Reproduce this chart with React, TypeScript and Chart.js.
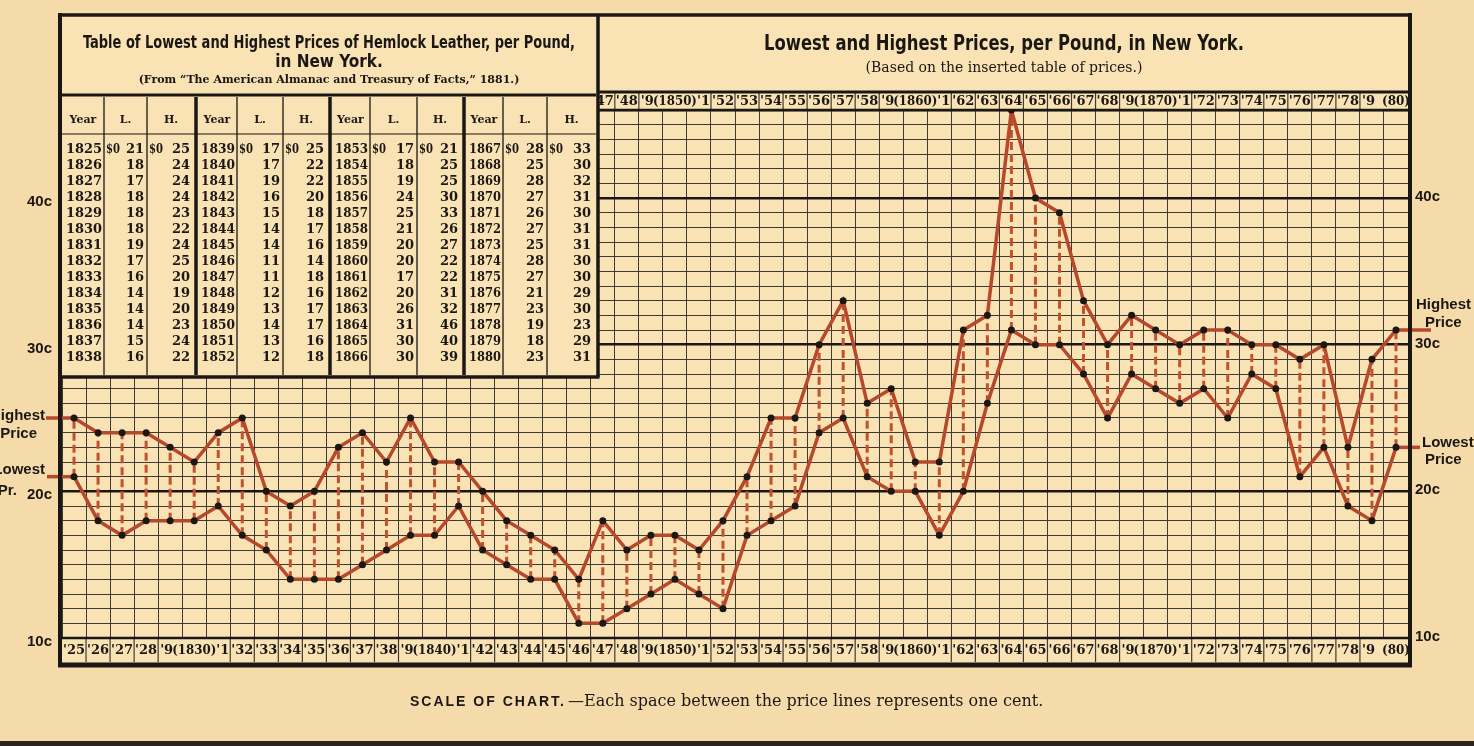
import React, { useEffect, useRef } from "react";
import { Chart, registerables } from "chart.js";

Chart.register(...registerables);

// ---------------- DATA ----------------
const years = [
  1825, 1826, 1827, 1828, 1829, 1830, 1831, 1832, 1833, 1834, 1835, 1836, 1837, 1838,
  1839, 1840, 1841, 1842, 1843, 1844, 1845, 1846, 1847, 1848, 1849, 1850, 1851, 1852,
  1853, 1854, 1855, 1856, 1857, 1858, 1859, 1860, 1861, 1862, 1863, 1864, 1865, 1866,
  1867, 1868, 1869, 1870, 1871, 1872, 1873, 1874, 1875, 1876, 1877, 1878, 1879, 1880,
];
// cents per pound
const lowPrices = [
  21, 18, 17, 18, 18, 18, 19, 17, 16, 14, 14, 14, 15, 16,
  17, 17, 19, 16, 15, 14, 14, 11, 11, 12, 13, 14, 13, 12,
  17, 18, 19, 24, 25, 21, 20, 20, 17, 20, 26, 31, 30, 30,
  28, 25, 28, 27, 26, 27, 25, 28, 27, 21, 23, 19, 18, 23,
];
const highPrices = [
  25, 24, 24, 24, 23, 22, 24, 25, 20, 19, 20, 23, 24, 22,
  25, 22, 22, 20, 18, 17, 16, 14, 18, 16, 17, 17, 16, 18,
  21, 25, 25, 30, 33, 26, 27, 22, 22, 31, 32, 46, 40, 39,
  33, 30, 32, 31, 30, 31, 31, 30, 30, 29, 30, 23, 29, 31,
];
const priceTickValues = [10, 20, 30, 40];
const priceTickLabels = ["10c", "20c", "30c", "40c"];

const tableTitle = "Table of Lowest and Highest Prices of Hemlock Leather, per Pound,";
const tableTitle2 = "in New York.";
const tableSource = "(From \u201CThe American Almanac and Treasury of Facts,\u201D 1881.)";
const chartTitle = "Lowest and Highest Prices, per Pound, in New York.";
const chartSubtitle = "(Based on the inserted table of prices.)";
const captionBold = "SCALE OF CHART.";
const captionRest = "\u2014Each space between the price lines represents one cent.";

// ---------------- STYLE ----------------
const PAPER = "#f5dbaa";
const INNER = "#f9e3b5";
const RED = "#b6482b";
const DASH_RED = "#c2512f";
const INK = "#1a1714";
const GRID = "#3f3a33";

const SERIF = '"DejaVu Serif", "Liberation Serif", serif';
const SANS = '"Liberation Sans", "DejaVu Sans", Arial, sans-serif';
const NARROW = '"Liberation Sans Narrow", "DejaVu Sans Condensed", "Liberation Sans", sans-serif';

function yearLabel(y: number): string {
  const d = y % 10;
  if (d === 0) return y === 1880 ? "(80)" : `(${y})`;
  if (d === 9 || d === 1) return `'${d}`;
  return `'${String(y % 100).padStart(2, "0")}`;
}

const artPlugin = {
  id: "art",
  beforeDraw(chart: any) {
    const { ctx, chartArea: a } = chart;
    ctx.save();
    ctx.fillStyle = PAPER;
    ctx.fillRect(0, 0, chart.width, chart.height);
    ctx.fillStyle = INNER;
    ctx.fillRect(a.left, a.top, a.right - a.left, a.bottom - a.top);
    ctx.restore();
  },
  beforeDatasetsDraw(chart: any) {
    const { ctx } = chart;
    const xs = chart.scales.x;
    const ys = chart.scales.y;
    ctx.save();
    ctx.strokeStyle = DASH_RED;
    ctx.lineWidth = 3;
    ctx.setLineDash([8, 4]);
    years.forEach((_, i) => {
      const x = xs.getPixelForValue(i);
      ctx.beginPath();
      ctx.moveTo(x, ys.getPixelForValue(lowPrices[i]));
      ctx.lineTo(x, ys.getPixelForValue(highPrices[i]));
      ctx.stroke();
    });
    ctx.restore();
    // side extension lines
    const n = years.length;
    ctx.save();
    ctx.strokeStyle = RED;
    ctx.lineWidth = 3.5;
    const x0 = xs.getPixelForValue(0);
    const xn = xs.getPixelForValue(n - 1);
    const seg = (xa: number, xb: number, y: number) => {
      ctx.beginPath();
      ctx.moveTo(xa, y);
      ctx.lineTo(xb, y);
      ctx.stroke();
    };
    seg(46, x0, ys.getPixelForValue(highPrices[0]));
    seg(47, x0, ys.getPixelForValue(lowPrices[0]));
    seg(xn, 1431, ys.getPixelForValue(highPrices[n - 1]));
    seg(xn, 1420, ys.getPixelForValue(lowPrices[n - 1]));
    ctx.restore();
  },
  afterDraw(chart: any) {
    const { ctx, chartArea: a } = chart;
    const xs = chart.scales.x;
    const ys = chart.scales.y;
    const n = years.length;
    const half = (xs.getPixelForValue(1) - xs.getPixelForValue(0)) / 2;
    const isDecade = (i: number) => years[i] % 10 === 0;

    const line = (x1: number, y1: number, x2: number, y2: number, w: number, c = INK) => {
      ctx.save();
      ctx.strokeStyle = c;
      ctx.lineWidth = w;
      ctx.beginPath();
      ctx.moveTo(x1, y1);
      ctx.lineTo(x2, y2);
      ctx.stroke();
      ctx.restore();
    };

    const TITLE_BOTTOM = 92;
    const ROW_BOTTOM = 662;
    const FRAME_L = 60;
    const FRAME_R = 1410;
    const FRAME_T = 15;
    const TABLE_R = 598;
    const TABLE_B = 377;

    // ---------- year label rows ----------
    const drawRow = (top: number, bottom: number, clipLeft: number) => {
      ctx.save();
      ctx.beginPath();
      ctx.rect(clipLeft, top, a.right - clipLeft, bottom - top);
      ctx.clip();
      ctx.fillStyle = INNER;
      ctx.fillRect(clipLeft, top, a.right - clipLeft, bottom - top);
      ctx.strokeStyle = GRID;
      ctx.lineWidth = 1.2;
      for (let i = 1; i < n; i++) {
        if (isDecade(i) || isDecade(i - 1)) continue;
        const x = xs.getPixelForValue(i) - half;
        ctx.beginPath();
        ctx.moveTo(x, top);
        ctx.lineTo(x, bottom);
        ctx.stroke();
      }
      ctx.fillStyle = INK;
      ctx.font = `bold 13px ${SERIF}`;
      ctx.textBaseline = "middle";
      const cy = (top + bottom) / 2 + 1;
      years.forEach((y, i) => {
        const cx = xs.getPixelForValue(i);
        const d = y % 10;
        const t = yearLabel(y);
        if (d === 0) {
          ctx.textAlign = "center";
          ctx.fillText(t, cx, cy, y === 1880 ? 2 * half + 4 : 2 * half + 20);
        } else if (d === 9) {
          ctx.textAlign = "left";
          ctx.fillText(t, cx - half + 2, cy);
        } else if (d === 1) {
          ctx.textAlign = "right";
          ctx.fillText(t, cx + half - 1, cy);
        } else {
          ctx.textAlign = "center";
          ctx.fillText(t, cx, cy, 2 * half - 2);
        }
      });
      ctx.restore();
    };
    drawRow(TITLE_BOTTOM, a.top, TABLE_R);
    drawRow(a.bottom, ROW_BOTTOM, a.left);

    // ---------- chart title box ----------
    ctx.save();
    ctx.fillStyle = INNER;
    ctx.fillRect(TABLE_R, FRAME_T, FRAME_R - TABLE_R, TITLE_BOTTOM - FRAME_T);
    ctx.fillStyle = INK;
    ctx.textAlign = "center";
    ctx.textBaseline = "middle";
    const tcx = (TABLE_R + FRAME_R) / 2;
    ctx.font = `bold 21px ${NARROW}`;
    ctx.fillText(chartTitle, tcx, 45, 480);
    ctx.font = `14px ${SERIF}`;
    ctx.fillText(chartSubtitle, tcx, 68, 328);
    ctx.restore();
    line(TABLE_R, TITLE_BOTTOM, FRAME_R, TITLE_BOTTOM, 3);
    line(TABLE_R, a.top, FRAME_R, a.top, 2.5);

    // ---------- table ----------
    ctx.save();
    ctx.fillStyle = INNER;
    ctx.fillRect(FRAME_L, FRAME_T, TABLE_R - FRAME_L, TABLE_B - FRAME_T);
    ctx.fillStyle = INK;
    ctx.textAlign = "center";
    ctx.textBaseline = "middle";
    const tx = (FRAME_L + TABLE_R) / 2;
    ctx.font = `bold 17px ${NARROW}`;
    ctx.fillText(tableTitle, tx, 44, 492);
    ctx.fillText(tableTitle2, tx, 63);
    ctx.font = `bold 11px ${SERIF}`;
    ctx.fillText(tableSource, tx, 80, 396);
    ctx.restore();
    line(62, 95, TABLE_R - 2, 95, 3);
    line(62, 134, TABLE_R - 2, 134, 1.2);

    const groups = [
      [62, 104, 147, 195],
      [197, 237, 283, 329],
      [331, 370, 417, 463],
      [465, 503, 547, 596],
    ];
    const rowsPer = 14;
    groups.forEach((g, gi) => {
      // separators
      line(g[1], 97, g[1], TABLE_B - 2, 1.3);
      line(g[2], 97, g[2], TABLE_B - 2, 1.3);
      if (gi < 3) line(g[3] + 1, 97, g[3] + 1, TABLE_B - 2, 3.5);
      ctx.save();
      ctx.fillStyle = INK;
      ctx.textBaseline = "middle";
      ctx.font = `bold 11px ${SERIF}`;
      ctx.textAlign = "center";
      ctx.fillText("Year", (g[0] + g[1]) / 2, 120);
      ctx.fillText("L.", (g[1] + g[2]) / 2, 120);
      ctx.fillText("H.", (g[2] + g[3]) / 2, 120);
      ctx.font = `bold 13px ${SERIF}`;
      for (let r = 0; r < rowsPer; r++) {
        const i = gi * rowsPer + r;
        if (i >= n) break;
        const y = 150 + r * 16;
        ctx.textAlign = "left";
        ctx.fillText(String(years[i]), g[0] + 4, y, g[1] - g[0] - 6);
        ctx.textAlign = "right";
        ctx.fillText(String(lowPrices[i]), g[2] - 3, y);
        ctx.fillText(String(highPrices[i]), g[3] - 5, y);
        if (r === 0) {
          ctx.textAlign = "left";
          ctx.fillText("$0", g[1] + 2, y, 14);
          ctx.fillText("$0", g[2] + 2, y, 14);
        }
      }
      ctx.restore();
    });
    line(TABLE_R, FRAME_T, TABLE_R, TABLE_B, 3.5);
    line(FRAME_L, TABLE_B, TABLE_R + 1.5, TABLE_B, 3.5);

    // ---------- outer frame ----------
    line(FRAME_L, FRAME_T - 2, FRAME_L, ROW_BOTTOM + 5, 4);
    line(FRAME_R, FRAME_T - 2, FRAME_R, ROW_BOTTOM + 5, 4);
    line(FRAME_L - 2, FRAME_T, FRAME_R + 2, FRAME_T, 3.5);
    line(FRAME_L - 2, ROW_BOTTOM + 3, FRAME_R + 2, ROW_BOTTOM + 3, 5);
    line(a.left, a.bottom, a.right, a.bottom, 2.5);

    // ---------- price labels ----------
    ctx.save();
    ctx.fillStyle = INK;
    ctx.textBaseline = "middle";
    ctx.font = `bold 15px ${SANS}`;
    priceTickValues.forEach((v, k) => {
      const y = ys.getPixelForValue(v);
      ctx.textAlign = "right";
      ctx.fillText(priceTickLabels[k], 52, y + 4);
      ctx.textAlign = "left";
      ctx.fillText(priceTickLabels[k], 1415, y - 1);
    });
    ctx.font = `bold 15px ${SANS}`;
    const hy0 = ys.getPixelForValue(highPrices[0]);
    const ly0 = ys.getPixelForValue(lowPrices[0]);
    ctx.textAlign = "right";
    ctx.fillText("Highest", 45, hy0 - 2);
    ctx.fillText("Price", 37, hy0 + 16);
    ctx.fillText("Lowest", 45, ly0 - 7);
    ctx.fillText("Pr.", 17, ly0 + 14);
    const hyn = ys.getPixelForValue(highPrices[n - 1]);
    const lyn = ys.getPixelForValue(lowPrices[n - 1]);
    ctx.textAlign = "left";
    ctx.fillText("Highest", 1416, hyn - 25);
    ctx.fillText("Price", 1425, hyn - 7);
    ctx.fillText("Lowest", 1422, lyn - 4);
    ctx.fillText("Price", 1425, lyn + 13);
    ctx.restore();

    // ---------- caption ----------
    ctx.save();
    ctx.fillStyle = INK;
    ctx.textBaseline = "middle";
    ctx.textAlign = "left";
    ctx.font = `bold 14px ${SANS}`;
    (ctx as any).letterSpacing = "2px";
    const bw = Math.min(ctx.measureText(captionBold).width, 168);
    ctx.fillText(captionBold, 410, 702, 168);
    (ctx as any).letterSpacing = "0px";
    ctx.font = `16px ${SERIF}`;
    ctx.fillText(captionRest, 410 + bw + 2, 702, 478);
    ctx.restore();

    ctx.save();
    ctx.fillStyle = "#2a2520";
    ctx.fillRect(0, 741, chart.width, 5);
    ctx.restore();
  },
};

export default function App() {
  const ref = useRef<HTMLCanvasElement>(null);
  useEffect(() => {
    const canvas = ref.current;
    if (!canvas) return;
    const chart = new Chart(canvas, {
      type: "line",
      data: {
        labels: years.map(String),
        datasets: [
          {
            label: "Highest Price",
            data: highPrices,
            borderColor: RED,
            borderWidth: 3.5,
            pointRadius: 3.5,
            pointBackgroundColor: INK,
            pointBorderWidth: 0,
            tension: 0,
          },
          {
            label: "Lowest Price",
            data: lowPrices,
            borderColor: RED,
            borderWidth: 3.5,
            pointRadius: 3.5,
            pointBackgroundColor: INK,
            pointBorderWidth: 0,
            tension: 0,
          },
        ],
      },
      options: {
        responsive: false,
        animation: false,
        devicePixelRatio: 1,
        layout: { padding: { left: 62, right: 66, top: 110, bottom: 108 } },
        plugins: { legend: { display: false }, tooltip: { enabled: false }, title: { display: false } },
        scales: {
          x: {
            type: "category",
            offset: true,
            grid: { offset: true, color: GRID, lineWidth: 1, drawTicks: false },
            ticks: { display: false },
            border: { display: false },
          },
          y: {
            type: "linear",
            min: 10,
            max: 46,
            ticks: { display: false, stepSize: 1 },
            grid: {
              drawTicks: false,
              color: (c: any) => (c.tick && c.tick.value % 10 === 0 ? INK : GRID),
              lineWidth: (c: any) => (c.tick && (c.tick.value % 10 === 0 || c.tick.value === 46) ? 2.5 : 1),
            },
            border: { display: false },
          },
        },
      },
      plugins: [artPlugin],
    } as any);
    return () => chart.destroy();
  }, []);
  return (
    <div style={{ position: "absolute", left: 0, top: 0, width: 1474, height: 746, background: PAPER, overflow: "hidden" }}>
      <canvas ref={ref} width={1474} height={746} style={{ display: "block", width: 1474, height: 746 }} />
    </div>
  );
}
